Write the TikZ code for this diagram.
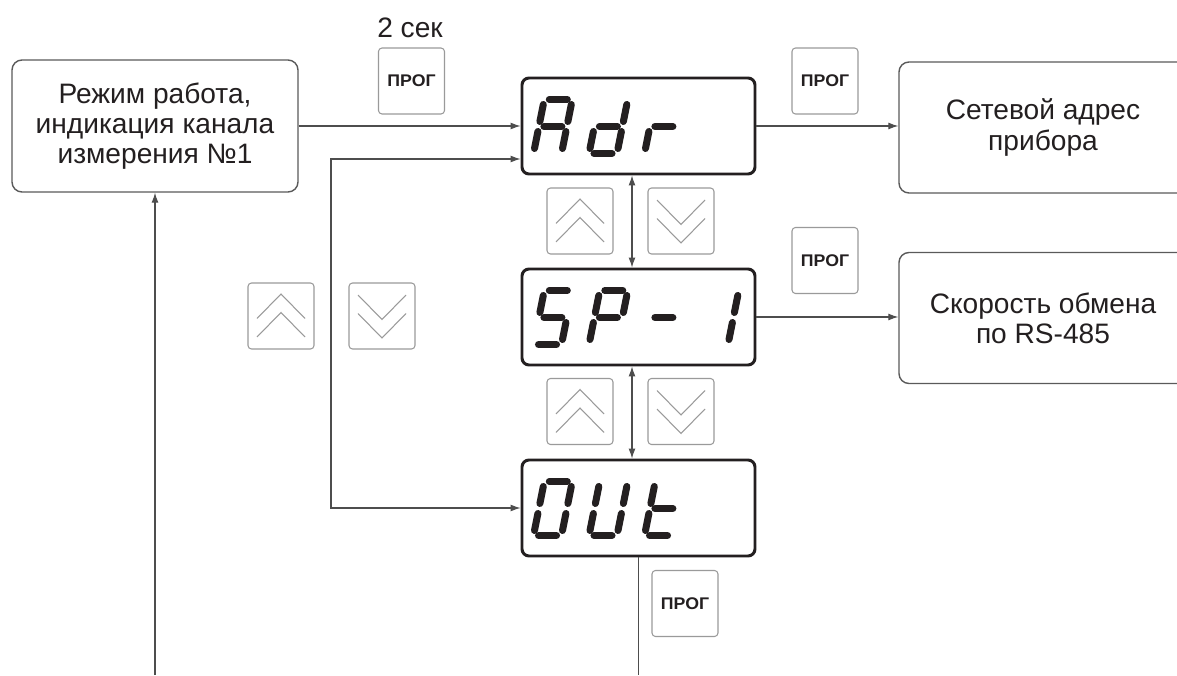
\documentclass[tikz,border=0pt]{standalone}
\usepackage{fontspec}
\setmainfont{Liberation Sans}
\newfontfamily\keyfont[FakeStretch=1.05]{Liberation Sans}
\usepackage{xcolor}
\usepackage{tikz}
\usetikzlibrary{arrows.meta}
\definecolor{PRInk}{HTML}{231F20}
\definecolor{PRLine}{HTML}{4D4D4D}
\definecolor{PRFrame}{HTML}{5A5A5A}
\definecolor{PRKey}{HTML}{9A9A9A}

% one slanted seven-segment cell: display, position, segments a b c d e f g
\newcommand\segcell[9]{%
\begin{scope}[shift={(#1.south west)},xshift=0.26cm+1.11cm*#2,yshift=0.44cm,xslant=0.2]
\ifnum#3=1 \draw[seg] (0.10,1.08) -- (0.46,1.08);\fi
\ifnum#4=1 \draw[seg] (0.56,0.98) -- (0.56,0.64);\fi
\ifnum#5=1 \draw[seg] (0.56,0.44) -- (0.56,0.10);\fi
\ifnum#6=1 \draw[seg] (0.10,0) -- (0.46,0);\fi
\ifnum#7=1 \draw[seg] (0,0.10) -- (0,0.44);\fi
\ifnum#8=1 \draw[seg] (0,0.64) -- (0,0.98);\fi
\ifnum#9=1 \draw[seg] (0.10,0.54) -- (0.46,0.54);\fi
\end{scope}}

\tikzset{
  pushkey/.style={draw=PRKey,line width=.6pt,rounded corners=.07cm,fill=white,
    minimum width=1.32cm,minimum height=1.32cm,inner sep=0},
  keylabel/.style={text=PRInk,font=\keyfont\bfseries\fontsize{9.6}{10}\selectfont},
  chev/.style={PRKey,line width=.6pt},
  upkey/.pic={\node[pushkey] (-box) {};
    \draw[chev] (-0.48,-0.05) -- (0,0.44) -- (0.48,-0.05)
                (-0.48,-0.42) -- (0,0.07) -- (0.48,-0.42);},
  downkey/.pic={\node[pushkey] (-box) {};
    \draw[chev] (-0.48,0.42) -- (0,-0.07) -- (0.48,0.42)
                (-0.48,0.05) -- (0,-0.44) -- (0.48,0.05);}
}

\begin{document}
\begin{tikzpicture}[x=1cm,y=1cm,
  infobox/.style={draw=PRFrame,line width=.8pt,rounded corners=.2cm,
    minimum width=5.72cm,minimum height=2.64cm,inner sep=0,align=center,
    text=PRInk,font=\fontsize{16}{17.2}\selectfont},
  lcd/.style={draw=PRInk,line width=1.7pt,rounded corners=.14cm,
    minimum width=4.66cm,minimum height=1.92cm,inner sep=0},
  seg/.style={PRInk,line width=4pt,line cap=round},
  flow/.style={PRLine,line width=.6pt,-{Latex[length=2mm,width=1.4mm]}},
  bothway/.style={PRLine,line width=.6pt,{Latex[length=2mm,width=1.4mm]}-{Latex[length=2mm,width=1.4mm]}}]
\path[use as bounding box] (0,0) rectangle (23.54,13.50);
\clip (0,0) rectangle (23.54,13.50);
\fill[white] (0,0) rectangle (23.54,13.50);
\coordinate (ground) at (0,0);
\coordinate (loop) at (6.62,10.32);

% boxes with text
\node[infobox] (mode) at (3.10,10.98) {Режим работа,\\индикация канала\\измерения №1};
\node[infobox,minimum width=5.76cm,minimum height=2.62cm] (netaddr) at (20.86,10.95) {Сетевой адрес\\прибора};
\node[infobox,minimum width=5.76cm,minimum height=2.62cm] (baud) at (20.86,7.14) {Скорость обмена\\по RS-485};

% indicator windows
\node[lcd] (adr) at (12.77,10.98) {};
\node[lcd] (sp) at (12.77,7.16) {};
\node[lcd] (out) at (12.77,3.34) {};
\segcell{adr}{0}{1}{1}{1}{0}{1}{1}{1}
\segcell{adr}{1}{0}{1}{1}{1}{1}{0}{1}
\segcell{adr}{2}{0}{0}{0}{0}{1}{0}{1}
\segcell{sp}{0}{1}{0}{1}{1}{0}{1}{1}
\segcell{sp}{1}{1}{1}{0}{0}{1}{1}{1}
\segcell{sp}{2}{0}{0}{0}{0}{0}{0}{1}
\segcell{sp}{3}{0}{1}{1}{0}{0}{0}{0}
\segcell{out}{0}{1}{1}{1}{1}{1}{1}{0}
\segcell{out}{1}{0}{1}{1}{1}{1}{1}{0}
\segcell{out}{2}{0}{0}{0}{1}{1}{1}{1}

% keys
\node[text=PRInk,font=\fontsize{16}{17.2}\selectfont] (hold) at (8.20,12.94) {2 сек};
\node[pushkey,keylabel] (progA) at (8.23,11.88) {ПРОГ};
\node[pushkey,keylabel] (progB) at (16.50,11.88) {ПРОГ};
\node[pushkey,keylabel] (progC) at (16.50,8.29) {ПРОГ};
\node[pushkey,keylabel] (progD) at (13.70,1.43) {ПРОГ};
\pic (upA) at (11.60,9.08) {upkey};
\pic (downA) at (13.62,9.08) {downkey};
\pic (upB) at (11.60,5.27) {upkey};
\pic (downB) at (13.62,5.27) {downkey};
\pic (upC) at (5.62,7.18) {upkey};
\pic (downC) at (7.64,7.18) {downkey};

% connectors
\draw[flow] (mode.east) -- (adr.west);
\draw[bothway] (adr.west |- loop) -- (loop) |- (out.west);
\draw[flow] (adr.east) -- (adr.east -| netaddr.west);
\draw[flow] (sp.east) -- (sp.east -| baud.west);
\draw[bothway] ([xshift=-0.13cm]adr.south) -- ([xshift=-0.13cm]sp.north);
\draw[bothway] ([xshift=-0.13cm]sp.south) -- ([xshift=-0.13cm]out.north);
\draw[PRLine,line width=.6pt] (out.south) -- (out.south |- ground);
\draw[flow] (mode.south |- ground) -- (mode.south);
\end{tikzpicture}
\end{document}
